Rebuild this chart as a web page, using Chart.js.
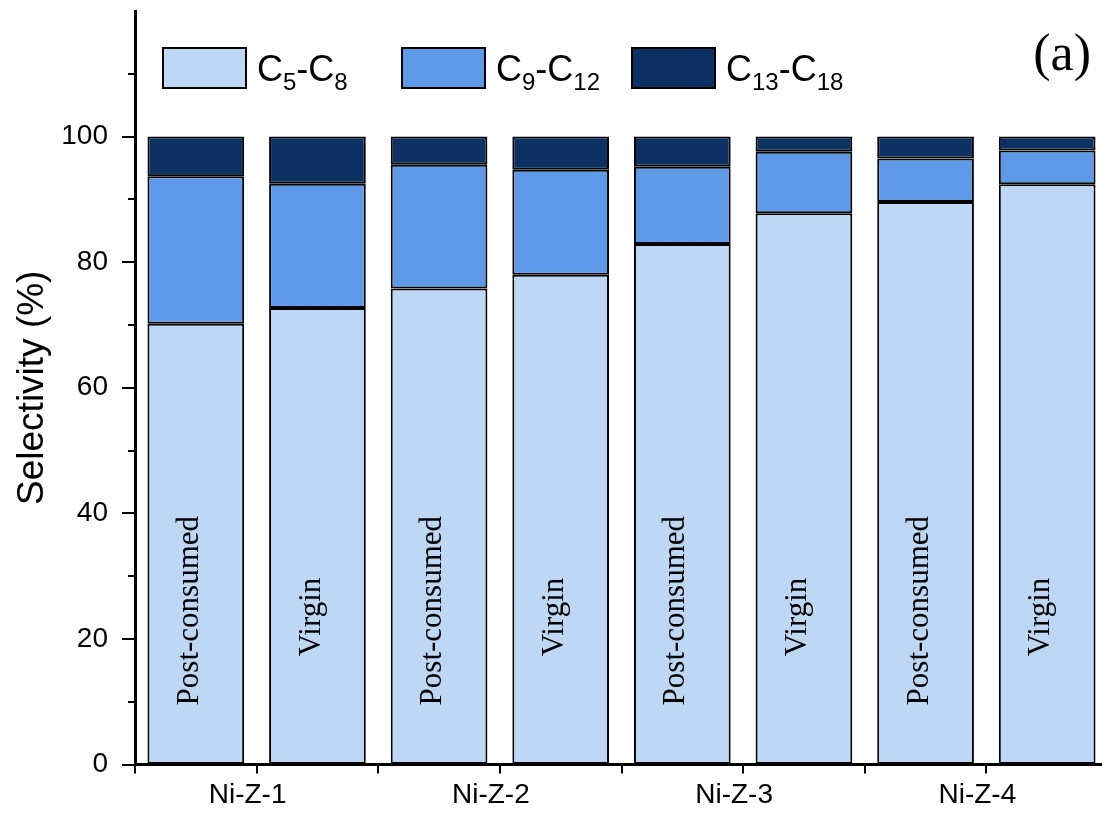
<!DOCTYPE html>
<html>
<head>
<meta charset="utf-8">
<script src="https://cdn.jsdelivr.net/npm/chart.js@4.4.1/dist/chart.umd.min.js"></script>
<style>
html,body{margin:0;padding:0;background:#fff;overflow:hidden;}
#wrap{position:relative;width:1108px;height:813px;}
</style>
</head>
<body>
<div id="wrap"><canvas id="sel"></canvas></div>
<script>
// selectivity per catalyst / feedstock (%)
const feedstock = ["Post-consumed","Virgin","Post-consumed","Virgin","Post-consumed","Virgin","Post-consumed","Virgin"];
const catalysts = ["Ni-Z-1","Ni-Z-2","Ni-Z-3","Ni-Z-4"];
const c5c8   = [70.2, 72.7, 75.8, 78.0, 82.9, 87.8, 89.6, 92.4];
const c9c12  = [23.5, 19.8, 19.7, 16.7, 12.3,  9.8,  6.9,  5.4];
const c13c18 = [ 6.3,  7.5,  4.5,  5.3,  4.8,  2.4,  3.5,  2.2];
const seriesNames = ["C5-C8","C9-C12","C13-C18"];
const yLabelled = [0, 20, 40, 60, 80, 100];

const SANS = "'Liberation Sans', Arial, sans-serif";
const SERIF = "'Liberation Serif', 'Times New Roman', serif";
const colors = ["#bdd7f5", "#5e9ae8", "#0e3164"];

// text like C13-C18 with the digits set as subscripts
function drawChem(ctx, str, x, y, size){
  const parts = str.split(/(\d+)/).filter(s => s.length);
  for (const p of parts){
    const sub = /^\d+$/.test(p);
    ctx.font = (sub ? Math.round(size*0.66) : size) + "px " + SANS;
    ctx.fillText(p, x, sub ? y + size*0.25 : y);
    x += ctx.measureText(p).width;
  }
}

const decorations = {
  id: "decorations",
  afterDatasetsDraw(chart){
    const {ctx, scales} = chart;
    const y = scales.y, x = scales.x;
    ctx.save();

    // feedstock names inside the bars
    const meta = chart.getDatasetMeta(0);
    ctx.fillStyle = "#000";
    ctx.font = "31px " + SERIF;
    ctx.textAlign = "center";
    ctx.textBaseline = "middle";
    meta.data.forEach((bar, i) => {
      const mid = feedstock[i] === "Virgin" ? 23.5 : 24.5;
      ctx.save();
      ctx.translate(bar.x - 6, y.getPixelForValue(mid));
      ctx.rotate(-Math.PI/2);
      ctx.fillText(feedstock[i], 0, 0);
      ctx.restore();
    });

    // y tick marks, long on the labelled values
    ctx.strokeStyle = "#000";
    ctx.lineWidth = 2;
    y.ticks.forEach(t => {
      const py = Math.round(y.getPixelForValue(t.value));
      const len = yLabelled.includes(t.value) ? 13 : 7;
      ctx.beginPath();
      ctx.moveTo(y.right - len, py);
      ctx.lineTo(y.right, py);
      ctx.stroke();
    });

    // x tick marks between the bars
    const step = x.getPixelForValue(1) - x.getPixelForValue(0);
    for (let i = 0; i <= feedstock.length; i++){
      const px = Math.round(x.getPixelForValue(i) - step/2);
      ctx.beginPath();
      ctx.moveTo(px, x.top);
      ctx.lineTo(px, x.top + 9);
      ctx.stroke();
    }

    // legend
    const boxX = [163, 402, 632];
    ctx.textAlign = "left";
    ctx.textBaseline = "alphabetic";
    chart.data.datasets.forEach((ds, i) => {
      ctx.fillStyle = ds.backgroundColor;
      ctx.fillRect(boxX[i], 48, 83, 40);
      ctx.lineWidth = 2;
      ctx.strokeRect(boxX[i], 48, 83, 40);
      ctx.fillStyle = "#000";
      drawChem(ctx, ds.label, boxX[i] + 94, 81, 36);
    });

    // panel letter
    ctx.font = "52px " + SERIF;
    ctx.textAlign = "right";
    ctx.textBaseline = "middle";
    ctx.fillText("(a)", 1091, 56);
    ctx.restore();
  }
};

const mkSet = (i, data) => ({
  label: seriesNames[i], data,
  backgroundColor: colors[i], borderColor: "#000", borderWidth: 2, borderSkipped: false,
  categoryPercentage: 1, barPercentage: 0.795
});

new Chart(document.getElementById("sel"), {
  type: "bar",
  data: {
    labels: feedstock,
    datasets: [mkSet(0, c5c8), mkSet(1, c9c12), mkSet(2, c13c18)]
  },
  options: {
    responsive: true, maintainAspectRatio: false, animation: false,
    layout: {padding: {top: 11, right: 0, left: 0, bottom: 0}},
    plugins: {legend: {display: false}, tooltip: {enabled: false}},
    scales: {
      x: {
        stacked: true, weight: 0,
        grid: {display: false},
        border: {display: true, color: "#000", width: 3},
        ticks: {display: false},
        afterFit(s){ s.height = 10; s.paddingLeft = s.paddingRight = 0; }
      },
      x2: {
        type: "category", labels: catalysts, position: "bottom", offset: true, weight: 1,
        grid: {display: false, drawTicks: false},
        border: {display: false},
        ticks: {color: "#000", font: {family: SANS, size: 28}, padding: 4, labelOffset: -9, maxRotation: 0, autoSkip: false},
        afterFit(s){ s.height = 38.5; s.paddingLeft = s.paddingRight = 0; }
      },
      y: {
        stacked: true, min: 0, max: 120,
        afterBuildTicks(s){
          const t = [];
          for (let v = 0; v <= 110; v += 10) t.push({value: v});
          s.ticks = t;
        },
        grid: {display: true, drawOnChartArea: false, drawTicks: true, tickLength: 12, tickColor: "rgba(0,0,0,0)"},
        border: {display: true, color: "#000", width: 3},
        ticks: {
          color: "#000", font: {family: SANS, size: 28}, padding: 15, autoSkip: false,
          callback: v => yLabelled.includes(v) ? v : ""
        },
        title: {display: true, text: "Selectivity (%)", color: "#000", font: {family: SANS, size: 37}, padding: {top: 11, bottom: 0}},
        afterFit(s){ s.width = 135; s.paddingTop = s.paddingBottom = 0; }
      }
    }
  },
  plugins: [decorations]
});
</script>
</body>
</html>
